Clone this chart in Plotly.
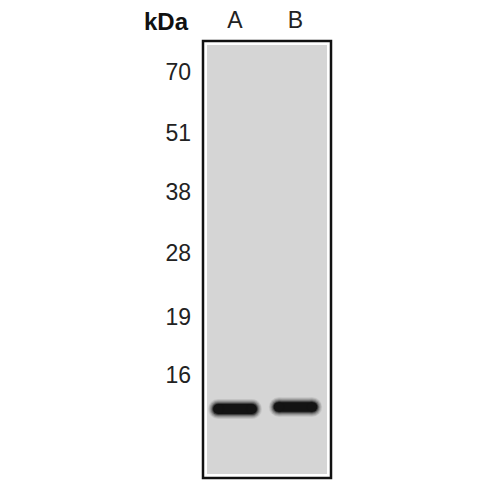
import plotly.graph_objects as go

# molecular weight ladder (kDa) and where each marker ran on the membrane
marker_kda = ["70", "51", "38", "28", "19", "16"]
marker_migration = [31, 92, 151, 212, 276, 334]

# sample lanes and the detected band in each
lanes = ["A", "B"]
lane_pos = [0, 1]
band_migration = [368, 366]
band_intensity = [1.0, 0.85]

FONT = "Liberation Sans, Arial, sans-serif"
HALF_LEN = 0.28  # half length of a band, in lane units

fig = go.Figure()

# each band is several stacked strokes, wide + faint underneath, narrow + dark on top
layers = [(20, 0.08), (18, 0.11), (16, 0.16), (14, 0.26), (12, 0.45), (10, 0.75)]
for x, y, k in zip(lane_pos, band_migration, band_intensity):
    for w, op in layers:
        width = w * (0.8 + 0.2 * k)
        fig.add_trace(go.Scatter(
            x=[x - HALF_LEN, x + HALF_LEN], y=[y, y],
            mode="lines+markers",
            line=dict(color="#050505", width=width),
            marker=dict(color="#050505", size=width, line=dict(width=0)),
            opacity=op, hoverinfo="skip", showlegend=False))

fig.update_layout(
    width=500, height=500,
    margin=dict(l=195, r=177, t=33, b=30),
    paper_bgcolor="white",
    plot_bgcolor="#d5d5d5",
    font=dict(family=FONT, color="#1a1a1a"),
    xaxis=dict(range=[-0.529, 1.587], side="top",
               tickvals=lane_pos, ticktext=lanes,
               tickfont=dict(size=23, color="#222"),
               ticklabelstandoff=7, automargin=False,
               showgrid=False, zeroline=False, showline=False, fixedrange=True),
    yaxis=dict(range=[437, 0],
               tickvals=marker_migration, ticktext=marker_kda,
               tickfont=dict(size=23, color="#222"),
               ticklabelstandoff=11, automargin=False,
               showgrid=False, zeroline=False, showline=False, fixedrange=True),
    shapes=[
        dict(type="rect", xref="paper", yref="paper", x0=0, x1=1, y0=0, y1=1,
             line=dict(color="white", width=8), layer="above"),
        dict(type="rect", xref="paper", yref="paper", x0=0, x1=1, y0=0, y1=1,
             line=dict(color="#111", width=2.5), layer="above"),
    ],
    annotations=[
        dict(text="<b>kDa</b>", xref="paper", yref="paper",
             x=-0.095, y=1.045, xanchor="right", yanchor="middle",
             showarrow=False, font=dict(size=24, color="#111")),
    ],
)

fig.write_html("out.html")
